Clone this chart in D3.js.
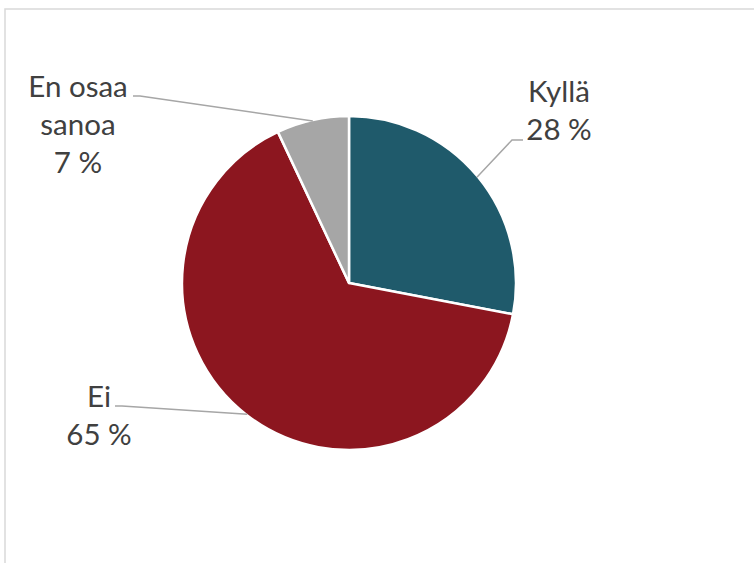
<!DOCTYPE html>
<html><head><meta charset="utf-8">
<script src="https://cdn.jsdelivr.net/npm/d3@7"></script>
<style>html,body{margin:0;padding:0;background:#fff;}svg{display:block;}</style>
</head><body>
<svg id="c" width="754" height="563"></svg>
<script>
const categories = ["Kyllä", "Ei", "En osaa sanoa"];
const values = [28, 65, 7];
const labelLines = [["Kyllä", "28 %"], ["Ei", "65 %"], ["En osaa", "sanoa", "7 %"]];
const colors = ["#1f5a6b", "#8c161f", "#a6a6a6"];

const W = 754, H = 563;
const cx = 349, cy = 283, R = 167;
// label layout: text centre x, first baseline y, leader start point
const layout = [
  {tx: 559, ty: 102, lead: [[523, 140], [512, 140]]},
  {tx: 99, ty: 407, lead: [[115, 406], [122, 406]]},
  {tx: 78, ty: 97, lead: [[133, 96], [140, 96]]}
];

const svg = d3.select("#c");
svg.append("rect").attr("x", 5).attr("y", 9).attr("width", W + 10).attr("height", H + 10)
  .attr("fill", "none").attr("stroke", "#d9d9d9").attr("stroke-width", 1.5);

const pie = d3.pie().value(d => d).sort(null);
const arcs = pie(values);
const arc = d3.arc().innerRadius(0).outerRadius(R);
const g = svg.append("g").attr("transform", `translate(${cx},${cy})`);
g.selectAll("path").data(arcs).join("path")
  .attr("d", arc).attr("fill", (d, i) => colors[i])
  .attr("stroke", "#fff").attr("stroke-width", 2.5).attr("stroke-linejoin", "round");

// leader lines
arcs.forEach((a, i) => {
  const m = (a.startAngle + a.endAngle) / 2;
  const ex = cx + (R - 1) * Math.sin(m), ey = cy - (R - 1) * Math.cos(m);
  const pts = [layout[i].lead[0], layout[i].lead[1], [ex, ey]];
  svg.append("path").attr("d", d3.line()(pts)).attr("fill", "none")
    .attr("stroke", "#a6a6a6").attr("stroke-width", 1.5);
});

labelLines.forEach((lines, i) => {
  const t = svg.append("text").attr("text-anchor", "middle")
    .attr("font-family", "Lato, 'Open Sans', sans-serif").attr("font-size", 29.5)
    .attr("fill", "#404040");
  lines.forEach((s, j) => {
    t.append("tspan").attr("x", layout[i].tx).attr("y", layout[i].ty + j * 38).text(s);
  });
});
</script>
</body></html>
